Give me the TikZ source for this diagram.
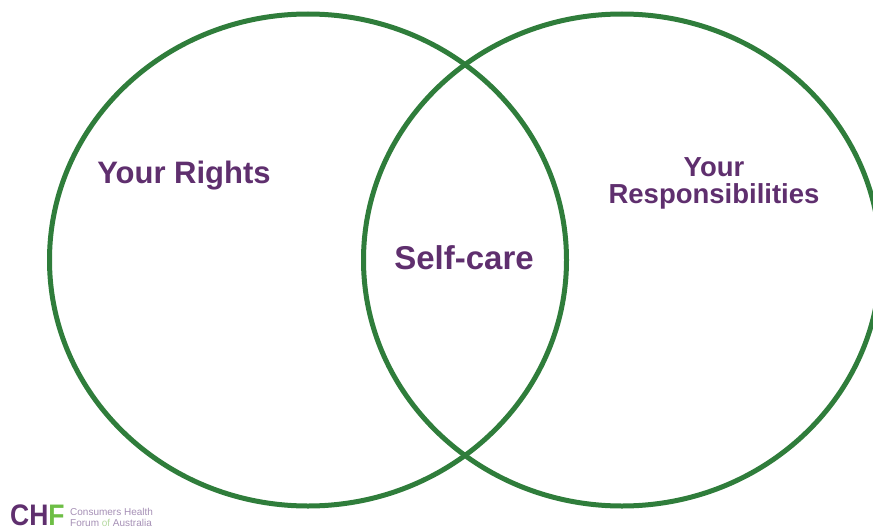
\documentclass[tikz,border=0pt]{standalone}
\usepackage{fontspec}
\setmainfont{Liberation Sans}
\usepackage{graphicx}
\usepackage{tikz}
\usetikzlibrary{shapes.geometric}
\definecolor{ringgreen}{HTML}{2F7D3B}
\definecolor{labelpurple}{HTML}{5F2F6E}
\definecolor{logogreen}{HTML}{6DBE45}
\definecolor{logolilac}{HTML}{A58FB5}
\definecolor{logopale}{HTML}{B5D9A0}
\tikzset{
  ring/.style={draw=ringgreen, line width=5pt, ellipse, inner sep=0pt, minimum width=517pt, minimum height=492pt},
  heading/.style={text=labelpurple, font=\bfseries\fontsize{31}{31}\selectfont, align=center, inner sep=0pt},
  carehead/.style={heading, font=\bfseries\fontsize{33}{33}\selectfont},
  smallhead/.style={heading, font=\bfseries\fontsize{27.5}{27}\selectfont},
  logotext/.style={text=logolilac, font=\fontsize{10}{10.2}\selectfont, align=left, inner sep=0pt, anchor=west},
}
\begin{document}
\begin{tikzpicture}[x=1pt,y=-1pt]
  \useasboundingbox (0,0) rectangle (873,527);
  \node[ring] (rights) at (308,260) {};
  \node[ring] (duties) at (622,260) {};
  \node[heading] (lblrights) at (184,176) {Your Rights};
  \node[carehead] (lblcare) at (464,258) {Self-care};
  \node[smallhead] (lblduties) at (714,183) {Your\\Responsibilities};
  % logo
  \node[inner sep=0pt, anchor=west, font=\bfseries\fontsize{26.5}{26.5}\selectfont] (logo) at (10,515)
    {\scalebox{1}[1.12]{\textcolor{labelpurple}{CH}\textcolor{logogreen}{F}}};
  \node[logotext] (logoname) at (70,517.5) {Consumers Health\\Forum \textcolor{logopale}{of} Australia};
\end{tikzpicture}
\end{document}
